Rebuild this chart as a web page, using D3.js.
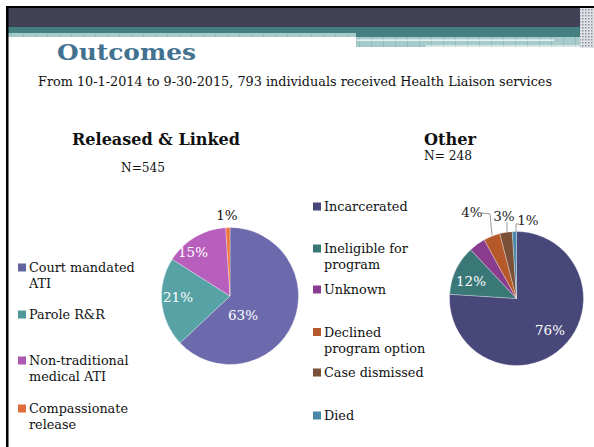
<!DOCTYPE html>
<html><head><meta charset="utf-8">
<script src="https://cdn.jsdelivr.net/npm/d3@7/dist/d3.min.js"></script>
<style>html,body{margin:0;padding:0;background:#fff;}svg{display:block;}</style>
</head><body>
<svg id="c" width="594" height="447"></svg>
<script>
// ---- data ----
const titleText = "Outcomes";
const subtitleText = "From 10-1-2014 to 9-30-2015, 793 individuals received Health Liaison services";
const leftTitle = "Released & Linked";
const leftN = "N=545";
const leftCategories = [["Court mandated","ATI"],["Parole R&R"],["Non-traditional","medical ATI"],["Compassionate","release"]];
const leftValues = [63, 21, 15, 1];
const leftColors = ["#6563a0", "#509799", "#ab58b0", "#e06e3c"];
const rightTitle = "Other";
const rightN = "N= 248";
const rightCategories = [["Incarcerated"],["Ineligible for","program"],["Unknown"],["Declined","program option"],["Case dismissed"],["Died"]];
const rightValues = [76, 12, 4, 4, 3, 1];
const rightColors = ["#47477a", "#3a7878", "#8a3d8e", "#b5582a", "#7a5038", "#4b87a8"];
const rightShowLabel = [true, true, false, true, true, true];

const svg = d3.select("#c");
const F = "'DejaVu Serif', Georgia, serif";
const defs = svg.append("defs");

// header decoration
const pat = defs.append("pattern").attr("id","chk").attr("patternUnits","userSpaceOnUse").attr("width",12).attr("height",12);
pat.append("rect").attr("width",12).attr("height",12).attr("fill","#a7cbcb");
pat.append("rect").attr("x",11).attr("width",1).attr("height",12).attr("fill","#8fbcbc");
const pat2 = defs.append("pattern").attr("id","dots").attr("patternUnits","userSpaceOnUse").attr("width",3).attr("height",3);
pat2.append("rect").attr("width",3).attr("height",3).attr("fill","#dfe3e6");
pat2.append("rect").attr("width",1.5).attr("height",1.5).attr("fill","#8a8f9c");

svg.append("rect").attr("x",8).attr("y",8).attr("width",572).attr("height",19).attr("fill","#414155");
svg.append("rect").attr("x",8).attr("y",27).attr("width",572).attr("height",6).attr("fill","#447f82");
svg.append("rect").attr("x",8).attr("y",33).attr("width",348).attr("height",4).attr("fill","url(#chk)");
svg.append("rect").attr("x",356).attr("y",33).attr("width",224).attr("height",4).attr("fill","#447f82");
svg.append("rect").attr("x",356).attr("y",37).attr("width",224).attr("height",10).attr("fill","url(#chk)");
svg.append("rect").attr("x",357).attr("y",39.5).attr("width",197).attr("height",1.2).attr("fill","#fff");
svg.append("rect").attr("x",426).attr("y",45.5).attr("width",160).attr("height",1).attr("fill","#fff");
svg.append("rect").attr("x",580).attr("y",8).attr("width",14).attr("height",40).attr("fill","url(#dots)");
svg.append("rect").attr("x",6).attr("y",6).attr("width",588).attr("height",2).attr("fill","#000");
svg.append("rect").attr("x",6).attr("y",6).attr("width",2.5).attr("height",441).attr("fill","#000");

// titles
svg.append("text").attr("x",57).attr("y",60).attr("font-family",F).attr("font-weight","bold").attr("font-size",23)
  .attr("fill","#42728f").attr("textLength",139).attr("lengthAdjust","spacingAndGlyphs").text(titleText);
svg.append("text").attr("x",38).attr("y",86).attr("font-family",F).attr("font-size",13.5)
  .attr("fill","#111").attr("textLength",514).attr("lengthAdjust","spacingAndGlyphs").text(subtitleText);
svg.append("text").attr("x",72).attr("y",145).attr("font-family",F).attr("font-weight","bold").attr("font-size",16.5)
  .attr("fill","#111").attr("textLength",168).attr("lengthAdjust","spacingAndGlyphs").text(leftTitle);
svg.append("text").attr("x",121).attr("y",172).attr("font-family",F).attr("font-size",13)
  .attr("fill","#111").attr("textLength",44).attr("lengthAdjust","spacingAndGlyphs").text(leftN);
svg.append("text").attr("x",424).attr("y",145).attr("font-family",F).attr("font-weight","bold").attr("font-size",16.5)
  .attr("fill","#111").attr("textLength",52).attr("lengthAdjust","spacingAndGlyphs").text(rightTitle);
svg.append("text").attr("x",424).attr("y",160).attr("font-family",F).attr("font-size",13)
  .attr("fill","#111").attr("textLength",48).attr("lengthAdjust","spacingAndGlyphs").text(rightN);

// pies
const pie = d3.pie().sort(null).value(d => d);
function drawPie(cx, cy, r, values, colors, prefix, gradient) {
  const g = svg.append("g").attr("transform", `translate(${cx},${cy})`);
  const arcs = pie(values);
  const arc = d3.arc().innerRadius(0).outerRadius(r);
  arcs.forEach((a, i) => {
    let fill = colors[i];
    if (gradient) {
      const id = prefix + "g" + i;
      const lg = defs.append("linearGradient").attr("id", id).attr("gradientUnits","userSpaceOnUse")
        .attr("x1", cx - r*0.3).attr("y1", cy - r).attr("x2", cx + r*0.3).attr("y2", cy + r);
      lg.append("stop").attr("offset","0%").attr("stop-color", d3.color(colors[i]).brighter(0.2));
      lg.append("stop").attr("offset","100%").attr("stop-color", d3.color(colors[i]).darker(0.25));
      fill = `url(#${id})`;
    }
    g.append("path").attr("d", arc(a)).attr("fill", fill)
      .attr("stroke", "#ffffff").attr("stroke-opacity", 0.5).attr("stroke-width", 0.6);
  });
  return {g, arcs, arc};
}

// left pie
const L = drawPie(230, 296, 68.5, leftValues, leftColors, "L", true);
const leftLabelPos = [[243, 316], [178, 298], [193, 253], [227, 216]];
L.arcs.forEach((a, i) => {
  const inside = i < 3;
  svg.append("text").attr("x", leftLabelPos[i][0]).attr("y", leftLabelPos[i][1])
    .attr("text-anchor","middle").attr("dominant-baseline","middle")
    .attr("font-family", F).attr("font-size", 13.5).attr("fill", inside ? "#fff" : "#111")
    .text(a.data + "%");
});

// right pie
const R = drawPie(516.5, 298.5, 67, rightValues, rightColors, "R", false);
const rightLabelPos = [[550, 331], [471, 282], null, [472, 213], [504, 217], [528, 221]];
const leaders = [null, null, null, [[482,213],[490,214],[492,235]], [[507,222],[507,232]], [[519,224],[516,224],[516,232]]];
R.arcs.forEach((a, i) => {
  if (!rightShowLabel[i]) return;
  const inside = i < 2;
  if (leaders[i]) {
    svg.append("path").attr("d", d3.line()(leaders[i])).attr("fill","none").attr("stroke","#999").attr("stroke-width",1);
  }
  svg.append("text").attr("x", rightLabelPos[i][0]).attr("y", rightLabelPos[i][1])
    .attr("text-anchor","middle").attr("dominant-baseline","middle")
    .attr("font-family", F).attr("font-size", 13.5).attr("fill", inside ? "#fff" : "#222")
    .text(a.data + "%");
});

// legends
function legend(x, sqX, tops, cats, colors) {
  cats.forEach((lines, i) => {
    svg.append("rect").attr("x", sqX).attr("y", tops[i] - 8.5).attr("width", 8).attr("height", 8).attr("fill", colors[i]);
    lines.forEach((t, j) => {
      svg.append("text").attr("x", x).attr("y", tops[i] + j * 16.3)
        .attr("font-family", F).attr("font-size", 12.8).attr("fill", "#111").text(t);
    });
  });
}
legend(29, 18, [272, 319, 365, 413], leftCategories, leftColors);
legend(324, 313, [211, 253, 294, 336.5, 377, 420], rightCategories, rightColors);
</script>
</body></html>
